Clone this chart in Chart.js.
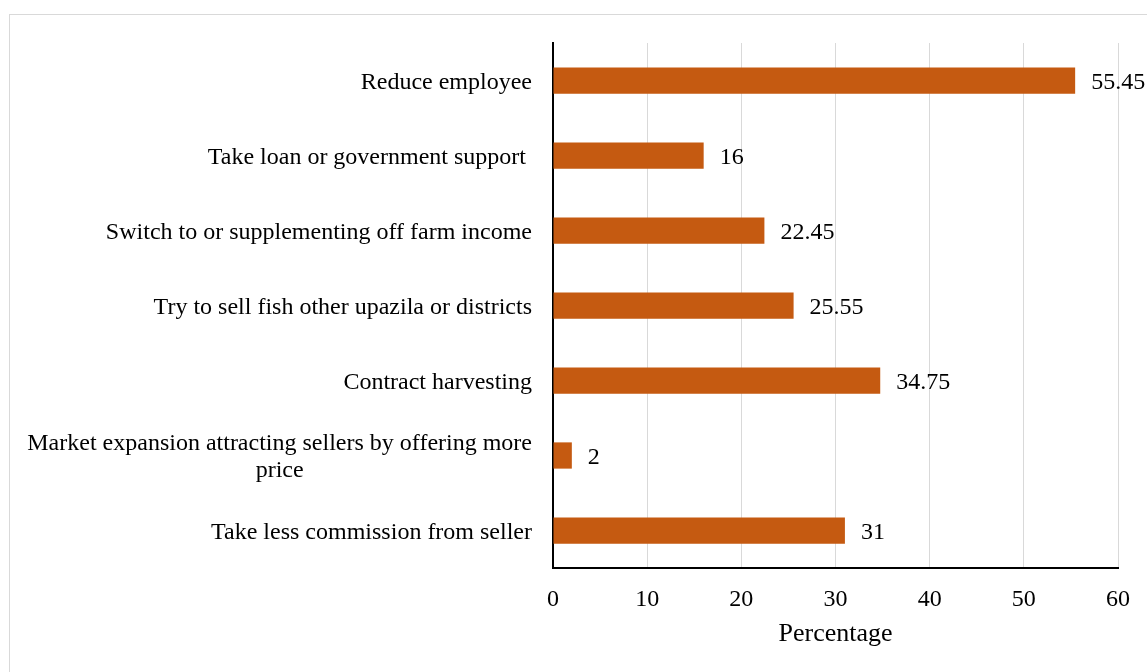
<!DOCTYPE html>
<html>
<head>
<meta charset="utf-8">
<script src="https://cdn.jsdelivr.net/npm/chart.js@4"></script>
<style>
  html, body { margin: 0; padding: 0; background: #fff; overflow: hidden; }
  #frame { position: absolute; left: 9px; top: 14px; width: 1200px; height: 700px; border: 1px solid #d9d9d9; }
  #wrap { position: absolute; left: 0; top: 0; width: 1147px; height: 672px; }
</style>
</head>
<body>
<div id="frame"></div>
<div id="wrap"><canvas id="chart"></canvas></div>
<script>
const categories = [
  ['Reduce employee'],
  ['Take loan or government support '],
  ['Switch to or supplementing off farm income'],
  ['Try to sell fish other upazila or districts'],
  ['Contract harvesting'],
  ['Market expansion attracting sellers by offering more', 'price'],
  ['Take less commission from seller']
];
const percentages = [55.45, 16, 22.45, 25.55, 34.75, 2, 31];
const valueLabels = ['55.45', '16', '22.45', '25.55', '34.75', '2', '31'];

const FONT = '"Liberation Serif", "Times New Roman", serif';
const barColor = '#C55A11';

// category labels: right aligned block, lines centred within the block
const labelPlugin = {
  id: 'labels',
  afterDraw(chart) {
    const ctx = chart.ctx;
    const yScale = chart.scales.y;
    const meta = chart.getDatasetMeta(0);
    ctx.save();
    ctx.font = '24px ' + FONT;
    ctx.fillStyle = '#000';
    ctx.textBaseline = 'middle';
    const right = chart.chartArea.left - 21;
    categories.forEach((lines, i) => {
      const yc = yScale.getPixelForValue(i) + 2;
      const maxW = Math.max(...lines.map(l => ctx.measureText(l).width));
      const cx = right - maxW / 2;
      const lh = 27;
      const y0 = yc - (lines.length - 1) * lh / 2;
      ctx.textAlign = lines.length > 1 ? 'center' : 'right';
      lines.forEach((l, j) => {
        ctx.fillText(l, lines.length > 1 ? cx : right, y0 + j * lh);
      });
    });
    // value labels
    ctx.textAlign = 'left';
    meta.data.forEach((bar, i) => {
      ctx.fillText(valueLabels[i], bar.x + 16, bar.y + 2);
    });
    ctx.restore();
  }
};

new Chart(document.getElementById('chart'), {
  type: 'bar',
  data: {
    labels: categories.map(c => c.join(' ')),
    datasets: [{
      data: percentages,
      backgroundColor: barColor,
      categoryPercentage: 1,
      barPercentage: 0.35
    }]
  },
  options: {
    indexAxis: 'y',
    responsive: true,
    maintainAspectRatio: false,
    animation: false,
    layout: { padding: { top: 43, right: 28, bottom: 22, left: 0 } },
    plugins: { legend: { display: false }, tooltip: { enabled: false } },
    scales: {
      y: {
        ticks: { display: false },
        grid: { display: false, drawTicks: false },
        border: { color: '#000', width: 2 },
        afterFit: s => { s.width = 553; }
      },
      x: {
        min: 0, max: 60,
        ticks: { stepSize: 10, padding: 17, color: '#000', font: { family: FONT, size: 24 } },
        grid: { color: '#d9d9d9', lineWidth: 1, drawTicks: false },
        border: { color: '#000', width: 2 },
        title: { display: true, text: 'Percentage', color: '#000', font: { family: FONT, size: 26 }, padding: { top: 0, bottom: 0 } },
        afterFit: s => { s.height = 82; }
      }
    }
  },
  plugins: [labelPlugin]
});
</script>
</body>
</html>
